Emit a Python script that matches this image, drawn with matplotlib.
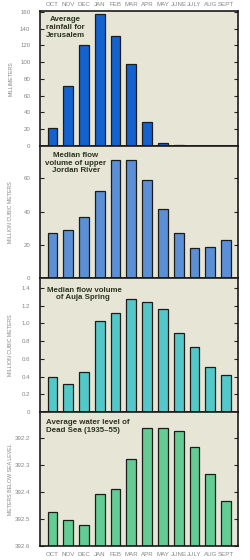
import matplotlib
matplotlib.use("Agg")
import matplotlib.pyplot as plt
from matplotlib.ticker import FuncFormatter
import numpy as np

plt.rcParams["font.family"] = ["Liberation Sans", "DejaVu Sans"]

months = ["OCT", "NOV", "DEC", "JAN", "FEB", "MAR", "APR", "MAY", "JUNE", "JULY", "AUG", "SEPT"]
rainfall = [21, 72, 121, 157, 131, 98, 29, 4, 1, 0, 0, 0]
jordan_flow = [27, 29, 37, 52.5, 71, 71, 59, 41.5, 27, 18, 18.5, 23]
auja_flow = [0.40, 0.31, 0.45, 1.03, 1.11, 1.27, 1.24, 1.16, 0.89, 0.73, 0.51, 0.42]
dead_sea = [392.474, 392.503, 392.521, 392.407, 392.388, 392.278, 392.165, 392.163, 392.175, 392.235, 392.334, 392.432]

titles = ["Average\nrainfall for\nJerusalem",
          "Median flow\nvolume of upper\nJordan River",
          "Median flow volume\n    of Auja Spring",
          "Average water level of\nDead Sea (1935\u201355)"]
ylabels = ["MILLIMETERS", "MILLION CUBIC METERS", "MILLION CUBIC METERS", "METERS BELOW SEA LEVEL"]
colors = ["#1262d0", "#5b90d6", "#52c8c8", "#62cc92"]

W, H = 250, 560
fig = plt.figure(figsize=(W / 100, H / 100), dpi=100)
fig.patch.set_facecolor("white")

ext = [(11, 146), (146, 278), (278, 412), (412, 546)]
left, right = 40, 238
x = np.arange(len(months))
label_color = "#858585"
title_color = "#2b3322"

axes = []
for i, (t, b) in enumerate(ext):
    ax = fig.add_axes([left / W, 1 - b / H, (right - left) / W, (b - t) / H])
    ax.set_facecolor("#e7e6d6")
    axes.append(ax)

data = [rainfall, jordan_flow, auja_flow, dead_sea]
for i, ax in enumerate(axes):
    vals = np.array(data[i])
    if i == 3:
        ax.bar(x, vals - 392.6, bottom=392.6, width=0.62, color=colors[i],
               edgecolor="#1c1c1c", linewidth=0.9)
        ax.set_ylim(392.6, 392.104)
        ax.set_yticks([392.2, 392.3, 392.4, 392.5, 392.6])
        ax.yaxis.set_major_formatter(FuncFormatter(lambda v, p: f"{v:.1f}"))
    else:
        ax.bar(x, vals, width=0.62, color=colors[i], edgecolor="#1c1c1c", linewidth=0.9)
    if i == 0:
        ax.set_ylim(0, 161)
        ax.set_yticks(np.arange(0, 161, 20))
    elif i == 1:
        ax.set_ylim(0, 79.5)
        ax.set_yticks([0, 20, 40, 60])
    elif i == 2:
        ax.set_ylim(0, 1.51)
        ax.set_yticks(np.arange(0, 1.41, 0.2))
        ax.yaxis.set_major_formatter(FuncFormatter(lambda v, p: "0" if abs(v) < 1e-9 else f"{v:.1f}"))
    ax.set_xlim(-0.79, 11.76)
    ax.tick_params(axis="y", direction="in", left=True, right=True, length=3,
                   width=0.8, labelsize=4.4, labelcolor=label_color, pad=7, color="#222222")
    ax.set_xticks(x)
    ax.tick_params(axis="x", length=0, labelsize=4.4, labelcolor=label_color, pad=4)
    if i == 0:
        ax.xaxis.tick_top()
        ax.set_xticklabels(months)
        ax.tick_params(axis="x", labeltop=True, labelbottom=False, pad=3)
    elif i == 3:
        ax.set_xticklabels(months)
    else:
        ax.set_xticklabels([])
    for s in ax.spines.values():
        s.set_linewidth(1.2)
        s.set_color("#1a1a1a")
    ax.set_ylabel(ylabels[i], fontsize=3.8, color=label_color)
    ax.yaxis.set_label_coords(-0.135, 0.5)

tkw = dict(fontsize=5.7, fontweight="bold", color=title_color, linespacing=1.15, va="top")
axes[0].text(0.13, 0.96, titles[0], transform=axes[0].transAxes, ha="center", **tkw)
axes[1].text(0.18, 0.955, titles[1], transform=axes[1].transAxes, ha="center", **tkw)
axes[2].text(0.035, 0.935, titles[2], transform=axes[2].transAxes, ha="left", **tkw)
axes[3].text(0.03, 0.945, titles[3], transform=axes[3].transAxes, ha="left", **tkw)

fig.savefig("out.png", dpi=100, facecolor=fig.get_facecolor())
